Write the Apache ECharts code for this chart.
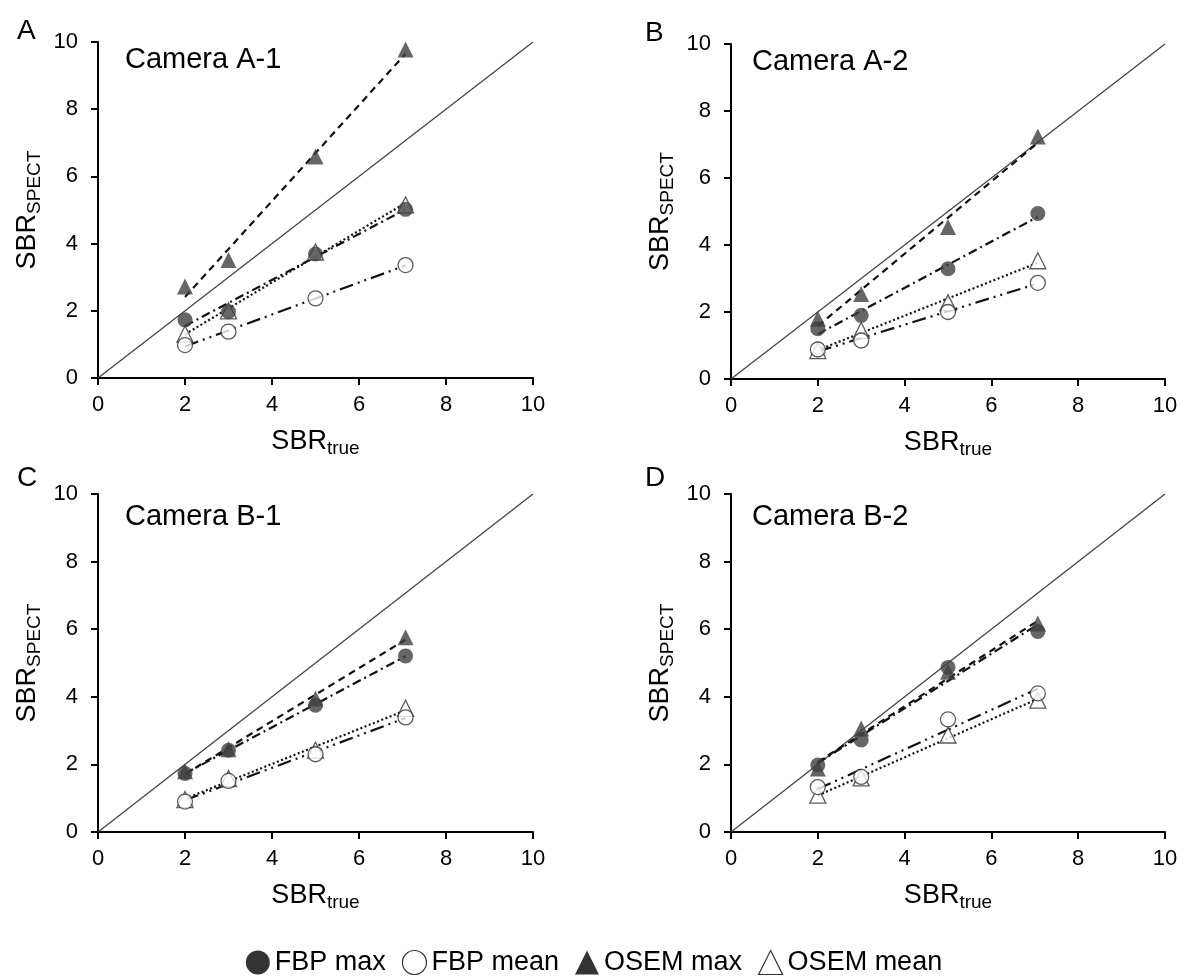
<!DOCTYPE html>
<html>
<head>
<meta charset="utf-8">
<script src="https://cdn.jsdelivr.net/npm/echarts@6/dist/echarts.min.js"></script>
<style>
  html, body { margin: 0; padding: 0; background: #fff; }
  #main { width: 1188px; height: 977px; }
</style>
</head>
<body>
<div id="main"></div>
<script>
// SBR true values (x) shared by all panels
var sbrTrue = [2.0, 3.0, 5.0, 7.07];
// x range of the fitted trend lines
var fitX = [2.0, 7.07];

var panelLetters = ['A', 'B', 'C', 'D'];
var cameraNames = ['Camera A-1', 'Camera A-2', 'Camera B-1', 'Camera B-2'];
var seriesNames = ['FBP max', 'FBP mean', 'OSEM max', 'OSEM mean'];

// Camera A-1
var aFbpMax = [1.73, 1.97, 3.69, 5.02];
var aFbpMean = [0.98, 1.38, 2.37, 3.36];
var aOsemMax = [2.72, 3.51, 6.59, 9.78];
var aOsemMean = [1.31, 2.0, 3.75, 5.15];
var aFits = [[1.55, 5.02], [0.94, 3.35], [2.41, 9.65], [1.30, 5.21]];

// Camera A-2
var bFbpMax = [1.50, 1.90, 3.29, 4.94];
var bFbpMean = [0.88, 1.15, 2.0, 2.87];
var bOsemMax = [1.80, 2.54, 4.54, 7.24];
var bOsemMean = [0.85, 1.45, 2.28, 3.53];
var bFits = [[1.34, 4.84], [0.82, 2.85], [1.58, 7.05], [0.86, 3.47]];

// Camera B-1
var cFbpMax = [1.73, 2.42, 3.75, 5.21];
var cFbpMean = [0.90, 1.51, 2.30, 3.39];
var cOsemMax = [1.80, 2.45, 3.95, 5.76];
var cOsemMean = [0.96, 1.58, 2.42, 3.66];
var cFits = [[1.73, 5.2], [0.94, 3.37], [1.71, 5.69], [0.98, 3.6]];

// Camera B-2
var dFbpMax = [1.98, 2.72, 4.87, 5.93];
var dFbpMean = [1.33, 1.63, 3.33, 4.10];
var dOsemMax = [1.88, 3.06, 4.74, 6.17];
var dOsemMean = [1.09, 1.60, 2.87, 3.90];
var dFits = [[2.04, 6.14], [1.27, 4.24], [2.07, 6.25], [1.08, 3.94]];

var panels = [
    [aFbpMax, aFbpMean, aOsemMax, aOsemMean, aFits],
    [bFbpMax, bFbpMean, bOsemMax, bOsemMean, bFits],
    [cFbpMax, cFbpMean, cOsemMax, cOsemMean, cFits],
    [dFbpMax, dFbpMean, dOsemMax, dOsemMean, dFits]
];

var FONT = '"Liberation Sans", Arial, sans-serif';
var grids = [
    {left: 98, top: 42, width: 435, height: 336},
    {left: 731, top: 44, width: 434, height: 335},
    {left: 98, top: 494, width: 435, height: 338},
    {left: 731, top: 494, width: 434, height: 338}
];
// letter / camera title offsets from each grid's top-left corner
var letterPos = [[-86, -30], [-91, -30], [-86, -35], [-91, -35]];
var cameraPos = [[22, -2], [16, -2], [22, 3], [16, 3]];

var dashes = [[9, 4, 2, 4], [14, 5, 2, 5, 2, 5], [7, 5], [2, 2.5]];
var symbols = ['circle', 'circle', 'triangle', 'triangle'];
var sizes = [15, 15, 16, 16];
var markerStyles = [
    {color: '#404040'},
    {color: '#fff', borderColor: '#333', borderWidth: 1.3},
    {color: '#404040'},
    {color: '#fff', borderColor: '#333', borderWidth: 1.3}
];

function pairs(xs, ys) {
    var out = [];
    for (var i = 0; i < xs.length; i++) out.push([xs[i], ys[i]]);
    return out;
}

var richName = {
    a: {fontSize: 27, fontFamily: FONT, color: '#000', lineHeight: 32},
    b: {fontSize: 19, fontFamily: FONT, color: '#000', lineHeight: 32, padding: [14, 0, 0, 0]}
};

var xAxes = [], yAxes = [], series = [], titles = [];

for (var p = 0; p < 4; p++) {
    var g = grids[p];
    xAxes.push({
        type: 'value', gridIndex: p, min: 0, max: 10, interval: 2,
        axisLine: {show: true, onZero: false, lineStyle: {color: '#000', width: 2}},
        axisTick: {show: true, length: 7, lineStyle: {color: '#000', width: 2}},
        splitLine: {show: false},
        axisLabel: {fontSize: 22, color: '#000', fontFamily: FONT, margin: 16},
        name: '{a|SBR}{b|true}',
        nameLocation: 'middle',
        nameGap: 48,
        nameTextStyle: {rich: richName}
    });
    yAxes.push({
        type: 'value', gridIndex: p, min: 0, max: 10, interval: 2,
        axisLine: {show: true, onZero: false, lineStyle: {color: '#000', width: 2}},
        axisTick: {show: true, length: 7, lineStyle: {color: '#000', width: 2}},
        splitLine: {show: false},
        axisLabel: {fontSize: 22, color: '#000', fontFamily: FONT, margin: 20},
        name: '{a|SBR}{b|SPECT}',
        nameLocation: 'middle',
        nameRotate: 90,
        nameGap: 54,
        nameTextStyle: {rich: richName}
    });

    // identity line
    series.push({
        type: 'line', xAxisIndex: p, yAxisIndex: p, silent: true,
        data: [[0, 0], [10, 10]], symbol: 'none',
        lineStyle: {color: '#444', width: 1.3}, z: 1
    });

    var pd = panels[p];
    // trend lines
    for (var s = 0; s < 4; s++) {
        series.push({
            type: 'line', xAxisIndex: p, yAxisIndex: p, silent: true,
            name: seriesNames[s] + ' fit',
            data: pairs(fitX, pd[4][s]), symbol: 'none',
            lineStyle: {color: '#111', width: 2.2, type: dashes[s]}, z: 2
        });
    }
    // points: open markers first, filled ones on top
    var order = [3, 1, 2, 0];
    for (var k = 0; k < 4; k++) {
        var s2 = order[k];
        series.push({
            type: 'scatter', xAxisIndex: p, yAxisIndex: p,
            name: seriesNames[s2],
            data: pairs(sbrTrue, pd[s2]),
            symbol: symbols[s2], symbolSize: sizes[s2],
            itemStyle: markerStyles[s2], z: 3 + k
        });
    }

    titles.push({
        text: panelLetters[p], left: g.left + letterPos[p][0], top: g.top + letterPos[p][1],
        textStyle: {fontSize: 28, fontWeight: 'normal', color: '#000', fontFamily: FONT}
    });
    titles.push({
        text: cameraNames[p], left: g.left + cameraPos[p][0], top: g.top + cameraPos[p][1],
        textStyle: {fontSize: 29, fontWeight: 'normal', color: '#000', fontFamily: FONT}
    });
}

var chart = echarts.init(document.getElementById('main'));
chart.setOption({
    animation: false,
    backgroundColor: '#fff',
    title: titles,
    grid: grids,
    xAxis: xAxes,
    yAxis: yAxes,
    legend: {
        left: 'center', top: 944,
        itemWidth: 24, itemHeight: 24, itemGap: 16,
        textStyle: {fontSize: 27, color: '#000', fontFamily: FONT},
        data: [
            {name: 'FBP max', icon: 'circle', itemStyle: {color: '#000'}},
            {name: 'FBP mean', icon: 'circle', itemStyle: {color: '#fff', borderColor: '#000', borderWidth: 1.2}},
            {name: 'OSEM max', icon: 'triangle', itemStyle: {color: '#000'}},
            {name: 'OSEM mean', icon: 'triangle', itemStyle: {color: '#fff', borderColor: '#000', borderWidth: 1.2}}
        ]
    },
    series: series
});
</script>
</body>
</html>
